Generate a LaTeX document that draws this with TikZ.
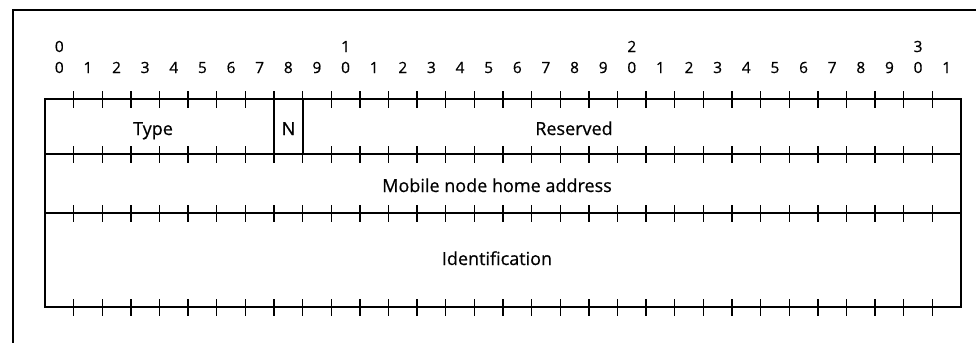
\documentclass[tikz,border=0pt]{standalone}
\usepackage{fontspec}
\setmainfont{Open Sans}[FakeBold=0.6]
\begin{document}
\begin{tikzpicture}[x=1pt,y=-1pt,
  frame/.style={line width=1.1pt},
  box/.style={line width=1.4pt},
  tick/.style={line width=1.4pt},
  digit/.style={font=\fontsize{15.4}{18}\selectfont, inner sep=0pt, anchor=base},
  lbl/.style={font=\fontsize{18}{21}\selectfont, inner sep=0pt, anchor=base}]
\useasboundingbox (0,0) rectangle (976,343);
% outer frame (open on right and bottom)
\coordinate (fr1) at (976,10);
\coordinate (fr2) at (13,10);
\coordinate (fr3) at (13,343);
\draw[frame] (fr1) -- (fr2) -- (fr3);
% packet box
\coordinate (tl) at (45,99);
\coordinate (br) at (961,307);
\draw[box] (tl) rectangle (br);
\draw[box] (45,154) -- (961,154);
\draw[box] (45,213) -- (961,213);
\draw[box] (274,99) -- (274,154);
\draw[box] (303,99) -- (303,154);
% ticks
\foreach \yy in {99,154,213,307}
  \foreach \k in {1,...,31}
    \draw[tick] ({45+28.625*\k},{\yy-8}) -- ++(0,17);
% bit numbers
\foreach \k in {0,...,31}{
  \pgfmathtruncatemacro\dd{mod(\k,10)}
  \node[digit] (u\k) at ({45+28.625*\k+14.3},73) {\dd};
}
\foreach \k/\t in {0/0,10/1,20/2,30/3}
  \node[digit] (t\k) at ({45+28.625*\k+14.3},52) {\t};
% labels
\node[lbl] (type) at (153,135) {Type};
\node[lbl] (nflag) at (288.5,135) {N};
\node[lbl] (res) at (574,135) {Reserved};
\node[lbl] (home) at (497,192) {Mobile node home address};
\node[lbl] (ident) at (497,265) {Identification};
\end{tikzpicture}
\end{document}
